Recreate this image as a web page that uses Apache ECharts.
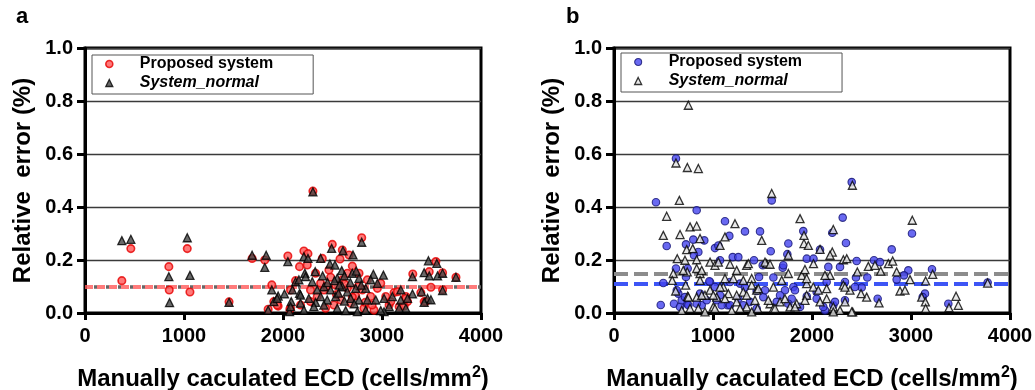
<!DOCTYPE html>
<html>
<head>
<meta charset="utf-8">
<script src="https://cdn.jsdelivr.net/npm/echarts@6/dist/echarts.min.js"></script>
<style>
  html, body { margin: 0; padding: 0; background: #fff; }
  #chart { width: 1035px; height: 390px; }
</style>
</head>
<body>
<div id="chart"></div>
<script>
// x ticks / y ticks
const xTicks = [0, 1000, 2000, 3000, 4000];
const yTicks = [0, 0.2, 0.4, 0.6, 0.8, 1.0];
const seriesNames = ['Proposed system', 'System_normal'];

// panel a : [ECD, relative error]
const aProposed = [
  [372,0.122],[463,0.243],[847,0.175],[851,0.087],[1033,0.243],[1060,0.079],[1455,0.042],[1688,0.206],
  [1816,0.2],[1887,0.106],[1907,0.043],[1951,0.026],[2049,0.215],[2076,0.087],[2167,0.175],[2211,0.234],
  [2245,0.181],[2302,0.46],[2397,0.206],[2498,0.259],[2599,0.238],[2667,0.219],[2700,0.177],[2768,0.15],
  [2795,0.284],[3311,0.147],[3477,0.156],[3544,0.194],[3612,0.152],[3747,0.135],[3494,0.097],[3612,0.088],
  [3426,0.043],[3258,0.043],[3122,0.077],[2252,0.224],[2576,0.204],[2127,0.122],[1941,0.03],[2329,0.15],
  [2464,0.162],[2532,0.106],[2413,0.087],[2346,0.062],[2650,0.093],[2802,0.087],[2886,0.062],[2954,0.093],
  [3038,0.062],[3156,0.08],[3241,0.062],[2177,0.03],[2514,0.03],[2818,0.018],[2919,0.011],[2684,0.037],
  [2278,0.043],[2076,0.018],[3072,0.03],[2430,0.018],[2582,0.049],[2734,0.064],[2380,0.112],[2481,0.135],
  [2599,0.125],[2650,0.15],[2852,0.125],[2987,0.112],[2278,0.087],[3173,0.024],[3224,0.026],[3241,0.055],
  [3443,0.043],[3392,0.077],[3089,0.043],[1850,0.014],[2069,0.014],[2440,0.1],[2540,0.07],[2620,0.11],
  [2700,0.06],[2760,0.1],[2830,0.04],[2900,0.03]
];
const aNormal = [
  [372,0.273],[463,0.278],[847,0.137],[854,0.039],[1033,0.284],[1060,0.142],[1455,0.04],[1688,0.218],
  [1830,0.218],[1816,0.172],[1887,0.087],[1907,0.043],[1850,0.011],[1951,0.064],[2015,0.072],[2049,0.194],
  [2066,0.005],[2083,0.043],[2127,0.118],[2167,0.074],[2177,0.037],[2211,0.011],[2211,0.212],[2252,0.206],
  [2221,0.15],[2302,0.457],[2325,0.156],[2380,0.206],[2329,0.04],[2491,0.244],[2606,0.235],[2707,0.219],
  [2795,0.267],[2913,0.146],[3014,0.143],[3308,0.137],[3426,0.152],[3469,0.197],[3554,0.187],[3477,0.14],
  [3561,0.14],[3612,0.15],[3747,0.135],[3612,0.085],[3399,0.08],[3460,0.055],[3494,0.05],[3426,0.04],
  [3190,0.087],[3241,0.018],[3173,0.018],[3021,0.005],[3308,0.072],[2474,0.185],[2525,0.181],[2593,0.16],
  [2700,0.15],[2768,0.131],[2160,0.125],[2228,0.137],[2296,0.118],[2548,0.131],[2599,0.099],[2413,0.099],
  [2346,0.087],[2481,0.087],[2650,0.08],[2734,0.093],[2835,0.093],[2886,0.125],[2954,0.112],[2096,0.087],
  [2177,0.068],[2261,0.055],[2380,0.062],[2447,0.049],[2532,0.062],[2684,0.055],[2768,0.049],[2852,0.049],
  [2937,0.049],[3021,0.055],[3105,0.062],[3190,0.049],[3258,0.055],[2076,0.024],[2312,0.024],[2413,0.03],
  [2548,0.018],[2633,0.009],[2751,0.005],[2835,0.011],[2987,0.009],[3072,0.024],[1941,0.055],[2450,0.115],
  [2520,0.122],[2570,0.105],[2620,0.14],[2680,0.115],[2740,0.158],[2790,0.105],[2400,0.14],[2560,0.075],
  [2620,0.045],[2720,0.035]
];
const aMeans = [0.097, 0.097];

// panel b
const bProposed = [
  [626,0.583],[424,0.418],[835,0.388],[532,0.253],[1121,0.346],[1323,0.308],[1165,0.291],[1475,0.308],
  [1583,0.233],[1593,0.425],[1761,0.262],[1912,0.309],[727,0.259],[801,0.277],[912,0.274],[1020,0.245],
  [472,0.03],[498,0.113],[626,0.168],[727,0.136],[744,0.168],[970,0.117],[1020,0.098],[1071,0.199],
  [1199,0.211],[1256,0.211],[1414,0.199],[1502,0.18],[1610,0.134],[1704,0.171],[1812,0.098],[1947,0.205],
  [2015,0.205],[606,0.035],[667,0.023],[740,0.035],[886,0.029],[1148,0.029],[1374,0.042],[1508,0.06],
  [1643,0.042],[1795,0.054],[1879,0.023],[1273,0.111],[1071,0.067],[1441,0.083],[1727,0.086],[869,0.073],
  [650,0.073],[2401,0.494],[2310,0.36],[2343,0.264],[2205,0.303],[2081,0.239],[2451,0.196],[2626,0.199],
  [2687,0.192],[2805,0.24],[3010,0.3],[2973,0.161],[3212,0.165],[2283,0.174],[2165,0.174],[2444,0.134],
  [2559,0.134],[2855,0.126],[2929,0.142],[3774,0.115],[2047,0.079],[2333,0.117],[2502,0.096],[2663,0.054],
  [3141,0.073],[3118,0.06],[3377,0.035],[2215,0.029],[1947,0.063],[2131,0.01],[751,0.029],[684,0.048],
  [835,0.035],[936,0.048],[1088,0.029],[1172,0.029],[1306,0.029],[1441,0.017],[634,0.086],[717,0.06],
  [1037,0.048],[1256,0.054],[963,0.12],[1172,0.117],[1323,0.096],[852,0.23],[808,0.218],[1054,0.255],
  [1751,0.222],[1710,0.18],[1465,0.136],[1828,0.086],[2148,0.117],[2434,0.098],[1525,0.086],[1677,0.067],
  [2047,0.054],[2232,0.042],[2333,0.048],[1761,0.035],[2114,0.023]
];
const bNormal = [
  [751,0.784],[626,0.566],[741,0.549],[852,0.545],[660,0.425],[532,0.365],[498,0.293],[667,0.296],
  [768,0.325],[835,0.328],[869,0.281],[734,0.239],[795,0.243],[639,0.205],[717,0.199],[835,0.201],
  [599,0.149],[740,0.155],[869,0.149],[623,0.083],[724,0.105],[869,0.123],[744,0.063],[835,0.06],
  [919,0.067],[684,0.01],[768,0.017],[970,0.192],[1020,0.18],[1071,0.255],[1121,0.287],[1222,0.337],
  [1172,0.184],[1239,0.161],[1340,0.18],[1121,0.13],[1205,0.13],[1306,0.123],[1391,0.13],[1492,0.274],
  [1542,0.186],[1593,0.451],[1694,0.123],[1761,0.218],[1879,0.356],[1919,0.262],[1896,0.142],[1963,0.255],
  [2015,0.186],[1037,0.06],[1104,0.098],[1003,0.023],[1239,0.042],[1340,0.023],[1424,0.048],[1441,0.086],
  [1576,0.035],[1610,0.017],[1677,0.042],[1778,0.023],[1845,0.035],[1946,0.067],[1155,0.073],[1306,0.079],
  [1391,0.105],[2408,0.482],[3013,0.35],[2215,0.315],[1919,0.293],[2081,0.24],[2205,0.23],[2182,0.218],
  [2317,0.201],[2351,0.205],[2569,0.176],[2636,0.18],[2771,0.186],[2815,0.196],[2694,0.158],[2855,0.155],
  [2458,0.155],[3219,0.146],[2990,0.126],[3148,0.121],[3774,0.113],[2889,0.083],[2939,0.086],[2552,0.06],
  [2495,0.073],[2384,0.086],[2316,0.105],[2013,0.098],[1946,0.111],[2182,0.142],[3108,0.06],[3145,0.042],
  [3148,0.017],[3455,0.063],[3478,0.029],[3384,0.02],[2677,0.038],[2411,0.004],[2215,0.023],[2283,0.01],
  [2081,0.042],[2148,0.054],[2333,0.042],[588,0.123],[700,0.161],[835,0.168],[886,0.161],[1054,0.192],
  [970,0.086],[1071,0.098],[751,0.06],[886,0.067],[1003,0.067],[1121,0.054],[1239,0.067],[1340,0.067],
  [852,0.017],[919,0.004],[1020,0.017],[1189,0.01],[1273,0.017],[1391,0.004],[1357,0.186],[1525,0.192],
  [1576,0.184],[1929,0.164],[1761,0.149],[1946,0.13],[2131,0.142],[1458,0.092],[1610,0.098],[2064,0.086],
  [2148,0.092],[2333,0.098],[1559,0.048],[1727,0.054],[1929,0.048],[1828,0.023],[1626,0.017],[2215,0.004],
  [2401,0.004],[1451,0.017]
];
const bMeans = [0.112, 0.152];

const FONT = 'Liberation Sans, Arial, sans-serif';
const chart = echarts.init(document.getElementById('chart'));

const styles = {
  aCircle: {color: '#ff5757', borderColor: '#e60000', borderWidth: 1.6},
  aTri: {color: '#444', borderColor: '#000', borderWidth: 1.3},
  bCircle: {color: '#4343ee', borderColor: '#121270', borderWidth: 1.1},
  bTri: {color: '#e2e2e2', borderColor: '#000', borderWidth: 1.3}
};

function xAxisOf(idx) {
  return {
    gridIndex: idx, type: 'value', min: xTicks[0], max: xTicks[xTicks.length - 1], interval: 1000,
    axisLine: {show: true, onZero: false, lineStyle: {color: '#000', width: 3}},
    axisTick: {show: true, length: 7, lineStyle: {color: '#000', width: 3}},
    axisLabel: {color: '#000', fontSize: 20, fontWeight: 'bold', fontFamily: FONT, margin: 13,
      formatter: v => String(v)},
    splitLine: {show: false},
    name: 'Manually caculated ECD (cells/mm{sup|2})',
    nameLocation: 'middle', nameGap: 52,
    nameTextStyle: {
      color: '#000', fontSize: 24, fontWeight: 'bold', fontFamily: FONT,
      rich: {sup: {fontSize: 16, fontWeight: 'bold', fontFamily: FONT, color: '#000', verticalAlign: 'top', padding: [0, 0, 12, 0]}}
    }
  };
}
function yAxisOf(idx) {
  return {
    gridIndex: idx, type: 'value', min: yTicks[0], max: yTicks[yTicks.length - 1], interval: 0.2,
    axisLine: {show: true, onZero: false, lineStyle: {color: '#000', width: 3}},
    axisTick: {show: true, length: 8, lineStyle: {color: '#000', width: 3}},
    axisLabel: {color: '#000', fontSize: 20, fontWeight: 'bold', fontFamily: FONT, margin: 12,
      formatter: v => v.toFixed(1)},
    splitLine: {show: true, lineStyle: {color: '#3a3a3a', width: 1.3}},
    name: 'Relative  error (%)',
    nameLocation: 'middle', nameGap: 50,
    nameTextStyle: {color: '#000', fontSize: 24, fontWeight: 'bold', fontFamily: FONT}
  };
}
function legendOf(left, top, circle, tri) {
  return {
    left: left, top: top, orient: 'vertical',
    padding: [1, 40, 3, 13], itemGap: 3, itemWidth: 7, itemHeight: 7,
    borderColor: '#555', borderWidth: 1, selectedMode: false,
    textStyle: {color: '#000', fontSize: 16, fontWeight: 'bold', fontFamily: FONT, padding: [0, 0, 0, 22]},
    data: [
      {name: seriesNames[0], icon: 'circle', itemStyle: circle},
      {name: seriesNames[1], icon: 'triangle', itemStyle: tri, textStyle: {fontStyle: 'italic'}}
    ]
  };
}
function meanLine(value, lineStyle) {
  return {silent: true, symbol: 'none', z: 1, label: {show: false}, lineStyle: lineStyle, data: [{yAxis: value}]};
}

const option = {
  animation: false,
  backgroundColor: '#fff',
  grid: [
    {left: 85, top: 48, width: 396, height: 265, outerBoundsMode: 'none', show: true, borderColor: '#000', borderWidth: 3},
    {left: 614, top: 48, width: 396, height: 265, outerBoundsMode: 'none', show: true, borderColor: '#000', borderWidth: 3}
  ],
  xAxis: [xAxisOf(0), xAxisOf(1)],
  yAxis: [yAxisOf(0), yAxisOf(1)],
  legend: [legendOf(92, 55, styles.aCircle, styles.aTri), legendOf(621, 53, styles.bCircle, styles.bTri)],
  graphic: [
    {type: 'text', left: 16, top: 6, style: {text: 'a', fontSize: 22, fontWeight: 'bold', fontFamily: FONT, fill: '#000'}},
    {type: 'text', left: 566, top: 6, style: {text: 'b', fontSize: 22, fontWeight: 'bold', fontFamily: FONT, fill: '#000'}}
  ],
  series: [
    {name: seriesNames[0], type: 'scatter', xAxisIndex: 0, yAxisIndex: 0, symbol: 'circle', symbolSize: 7.5,
      itemStyle: styles.aCircle, data: aProposed,
      markLine: meanLine(aMeans[0], {color: 'rgba(255,90,90,0.8)', width: 4, type: [8, 4]})},
    {name: seriesNames[1], type: 'scatter', xAxisIndex: 0, yAxisIndex: 0, symbol: 'triangle', symbolSize: 8,
      itemStyle: styles.aTri, data: aNormal,
      markLine: meanLine(aMeans[1], {color: '#666', width: 3.5, type: [3, 9], dashOffset: -9})},
    {name: seriesNames[0], type: 'scatter', xAxisIndex: 1, yAxisIndex: 1, symbol: 'circle', symbolSize: 7.5,
      itemStyle: styles.bCircle, data: bProposed,
      markLine: meanLine(bMeans[0], {color: '#3d55f5', width: 4, type: [14, 6]})},
    {name: seriesNames[1], type: 'scatter', xAxisIndex: 1, yAxisIndex: 1, symbol: 'triangle', symbolSize: 8,
      itemStyle: styles.bTri, data: bNormal,
      markLine: meanLine(bMeans[1], {color: '#8c8c8c', width: 4, type: [14, 6]})}
  ]
};
chart.setOption(option);
</script>
</body>
</html>
